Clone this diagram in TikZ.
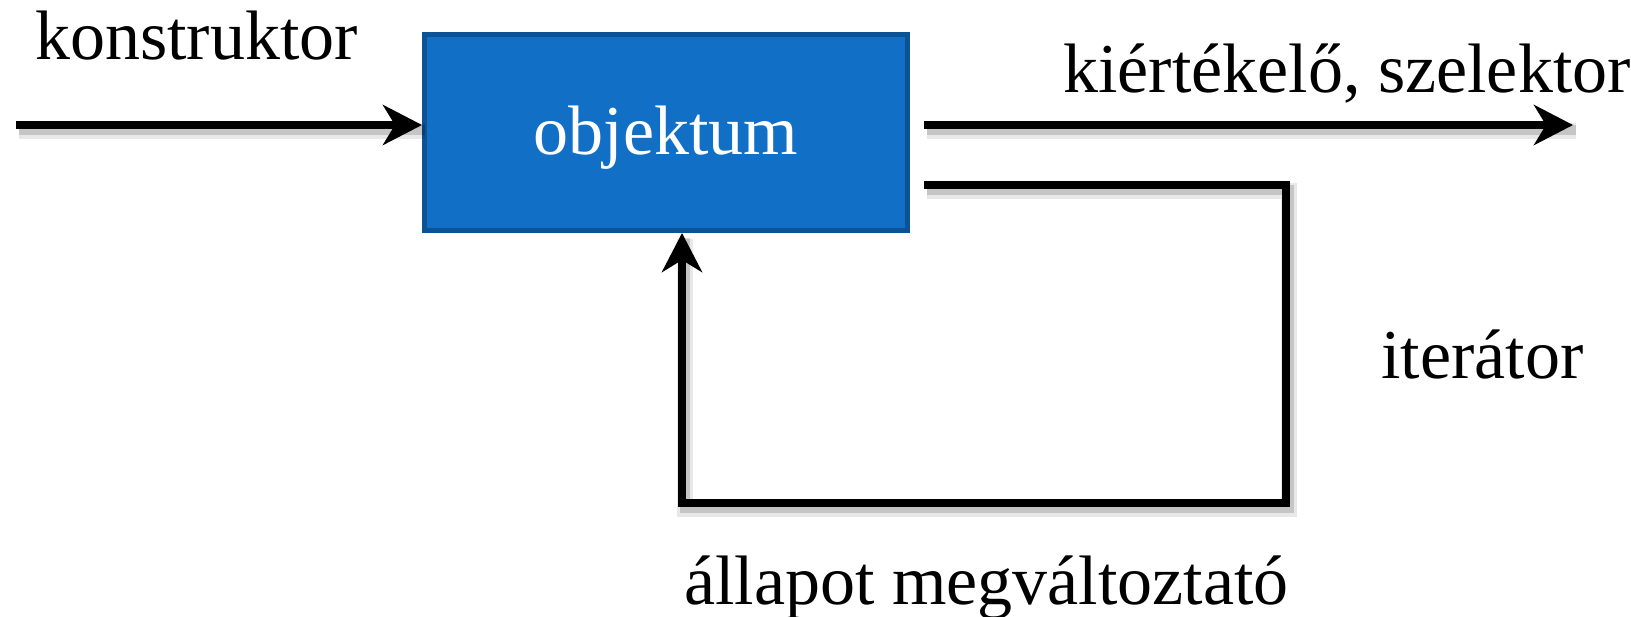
\documentclass[tikz,border=0pt]{standalone}
\usepackage{fontspec}
\setmainfont{Liberation Serif}
\usetikzlibrary{arrows.meta}
\definecolor{boxfill}{RGB}{17,112,198}
\definecolor{boxedge}{RGB}{14,82,150}
\begin{document}
\begin{tikzpicture}[x=1bp,y=-1bp,
  lbl/.style={anchor=base west,inner sep=0pt,font=\fontsize{70bp}{84bp}\selectfont},
  flow/.style={line width=8bp,black,miter limit=10},
  tipped/.style={-{Stealth[length=39bp,width=40bp,inset=12bp]}},
  shadowwide/.style={line width=16bp,black,opacity=0.09,
    transform canvas={shift={(3,6)}}},
  shadownarrow/.style={line width=10bp,black,opacity=0.15,
    transform canvas={shift={(3,5)}}},
  objbox/.style={draw=boxedge,fill=boxfill,line width=5bp,
    minimum width=483bp,minimum height=196bp,inner sep=0pt,
    text=white,text height=52bp,text depth=7bp,
    font=\fontsize{70bp}{84bp}\selectfont}]
\useasboundingbox (0,0) rectangle (1631,617);

% the object
\node[objbox] (obj) at (666,132.5) {objektum};

% free ends of the connectors
\coordinate (cin)  at (16,125);
\coordinate (eout) at (924,125);
\coordinate (eend) at (1573,125);
\coordinate (it0)  at (924,185);
\coordinate (it1)  at (1286,185);
\coordinate (it2)  at (1286,503);
\coordinate (it3)  at (682,503);

% soft shadows under the connectors
\foreach \s in {shadowwide,shadownarrow}{
  \draw[\s] (cin) -- (cin -| obj.west);
  \draw[\s] (eout) -- (eend);
  \draw[\s] (it0) -- (it1) -- (it2) -- (it3) -- (it3 |- obj.south);
}

% connectors
\draw[flow,tipped] (cin) -- (cin -| obj.west);
\draw[flow,tipped] (eout) -- (eend);
\draw[flow,tipped] (it0) -- (it1) -- (it2) -- (it3) -- (it3 |- obj.south);

% labels
\node[lbl] (tcons) at (35,60) {konstruktor};
\node[lbl] (teval) at (1063,93) {kiértékelő, szelektor};
\node[lbl] (titer) at (1381,378) {iterátor};
\node[lbl] (tstate) at (684,604) {állapot megváltoztató};
\end{tikzpicture}
\end{document}
